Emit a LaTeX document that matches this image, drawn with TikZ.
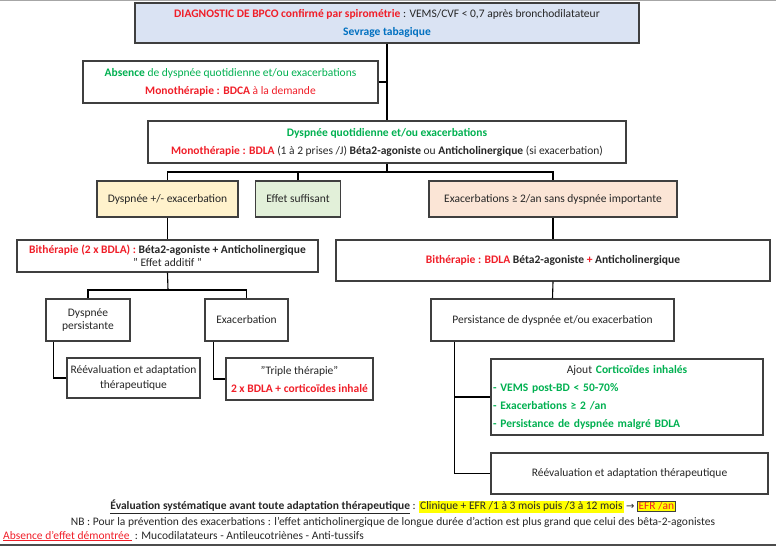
\documentclass[tikz,border=0pt]{standalone}
\usepackage{fontspec}
\setmainfont{Carlito}
\newfontfamily\symfont{DejaVu Sans}
\definecolor{bordc}{HTML}{3F3F3F}
\definecolor{txt}{HTML}{262626}
\definecolor{rd}{HTML}{F01E28}
\definecolor{gr}{HTML}{00B050}
\definecolor{bl}{HTML}{0070C0}
\definecolor{topfill}{HTML}{DAE3F3}
\definecolor{yelfill}{HTML}{FFF2CC}
\definecolor{grfill}{HTML}{E2F0D9}
\definecolor{pkfill}{HTML}{FBE5D6}
\definecolor{hl}{HTML}{FFFF00}
\begin{document}
\begin{tikzpicture}[x=1pt,y=-1pt,
  bx/.style={draw=bordc, line width=1.2pt, inner sep=2pt, align=center, text=txt, font=\fontsize{11.5}{18}\selectfont},
  tight/.style={font=\fontsize{11.5}{13.5}\selectfont},
  conn/.style={draw=black, line width=1.1pt},
  plain/.style={inner sep=0pt, text=txt, font=\fontsize{11.5}{13}\selectfont}]
\useasboundingbox (0,0) rectangle (776,547);
\draw[line width=1pt, color=black!35] (0,0.5) -- (776,0.5);
\draw[line width=2pt, color=black!70] (0,545) -- (776,545);

\node[bx, fill=topfill, minimum width=504, minimum height=40] (top) at (387,23)
  {{\bfseries\color{rd}DIAGNOSTIC DE BPCO confirmé par spirométrie} : VEMS/CVF < 0,7 après bronchodilatateur\\
   {\bfseries\color{bl}Sevrage tabagique}};
\node[bx, minimum width=295, minimum height=42] (absence) at (230.5,82)
  {{\color{gr}\bfseries Absence} {\color{gr}de dyspnée quotidienne et/ou exacerbations}\\
   {\color{rd}\bfseries Monothérapie : BDCA} {\color{rd}à la demande}};
\node[bx, minimum width=478, minimum height=42] (third) at (387,142)
  {{\color{gr}\bfseries Dyspnée quotidienne et/ou exacerbations}\\
   {\color{rd}\bfseries Monothérapie : BDLA} (1 à 2 prises /J) {\bfseries Béta2-agoniste} ou {\bfseries Anticholinergique} (si exacerbation)};

\node[bx, fill=yelfill, minimum width=141, minimum height=36] (dysp) at (167.5,199) {Dyspnée +/- exacerbation};
\node[bx, fill=grfill, minimum width=85, minimum height=36] (effet) at (298,199) {Effet suffisant};
\node[bx, fill=pkfill, minimum width=248, minimum height=36] (exac) at (553,199) {Exacerbations ≥ 2/an sans dyspnée importante};

\node[bx, tight, minimum width=301, minimum height=32] (bithl) at (167.5,256)
  {{\color{rd}\bfseries Bithérapie (2 x BDLA) :} {\bfseries Béta2-agoniste + Anticholinergique}\\
   " Effet additif "};
\node[bx, minimum width=434, minimum height=41] (bithr) at (553,260.5)
  {{\color{rd}\bfseries Bithérapie : BDLA} {\bfseries Béta2-agoniste} {\color{rd}\bfseries +} {\bfseries Anticholinergique}};

\node[bx, tight, minimum width=84, minimum height=42] (dpers) at (88,320) {Dyspnée\\persistante};
\node[bx, minimum width=83, minimum height=42] (exacb) at (246.5,320) {Exacerbation};
\node[bx, font=\fontsize{11.5}{15}\selectfont, minimum width=133, minimum height=40] (reevl) at (133.5,378)
  {Réévaluation et adaptation\\thérapeutique};
\node[bx, minimum width=147, minimum height=42] (triple) at (299.5,379)
  {"Triple thérapie"\\{\color{rd}\bfseries 2 x BDLA + corticoïdes inhalé}};

\node[bx, minimum width=243, minimum height=42] (persist) at (552.5,320) {Persistance de dyspnée et/ou exacerbation};
\node[bx, align=left, text width=268, minimum height=76] (ajout) at (627,397)
  {\makebox[268pt][c]{Ajout {\color{gr}\bfseries Corticoïdes inhalés}}\\
   {\color{gr}\bfseries - VEMS post-BD < 50-70\%}\\
   {\color{gr}\bfseries - Exacerbations ≥ 2 /an}\\
   {\color{gr}\bfseries - Persistance de dyspnée malgré BDLA}};
\node[bx, minimum width=277, minimum height=41] (reevr) at (629.5,473.5) {Réévaluation et adaptation thérapeutique};

% connectors
\draw[conn] (top.south) -- (third.north);
\draw[conn] (absence.east) -- (absence.east -| top.south);
\coordinate (bar1) at (387,172);
\draw[conn] (third.south) -- (bar1);
\draw[conn] (dysp.north) -- (dysp.north |- bar1) -- (exac.north |- bar1) -- (exac.north);
\draw[conn] (effet.north) -- (effet.north |- bar1);
\draw[conn] (dysp.south) -- (bithl.north);
\draw[conn] (exac.south) -- (bithr.north);
\coordinate (bar2) at (168,290);
\draw[conn] (bithl.south) -- (bar2);
\draw[conn] (dpers.north) -- (dpers.north |- bar2) -- (exacb.north |- bar2) -- (exacb.north);
\draw[conn] ([xshift=8pt]dpers.south west) |- (reevl.west);
\draw[conn] ([xshift=9pt]exacb.south west) |- (triple.west);
\draw[conn] (bithr.south) -- (persist.north);
\draw[conn] ([xshift=24pt]persist.south west) |- (reevr.west);
\draw[conn] ([xshift=24pt]persist.south west) |- (ajout.west);

% bottom notes
\node[plain] (eval) at (393,507)
  {\underline{\bfseries Évaluation systématique avant toute adaptation thérapeutique} : {\fboxsep=1pt\colorbox{hl}{Clinique + EFR /1 à 3 mois puis /3 à 12 mois}} {\symfont\fontsize{10}{12}\selectfont →} {\fboxsep=1pt\fcolorbox{bordc}{hl}{\color{rd}EFR /an}}};
\node[plain] (nb) at (393,522)
  {NB : Pour la prévention des exacerbations : l’effet anticholinergique de longue durée d’action est plus grand que celui des bêta-2-agonistes};
\node[plain, anchor=west] (absn) at (3,536)
  {{\color{rd}\underline{Absence d’effet démontrée }} : Mucodilatateurs - Antileucotriènes - Anti-tussifs};
\end{tikzpicture}
\end{document}
